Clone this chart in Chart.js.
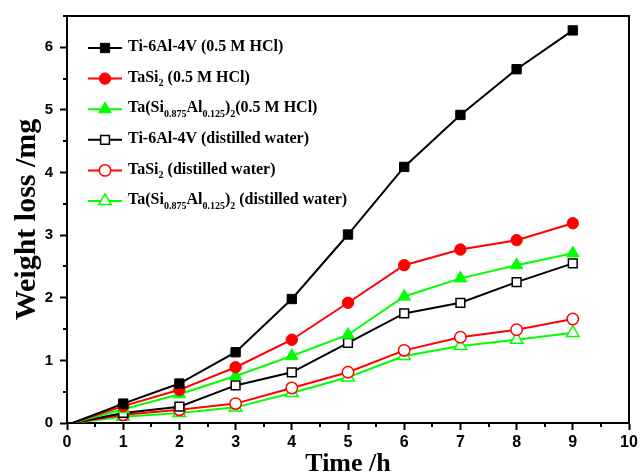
<!DOCTYPE html>
<html>
<head>
<meta charset="utf-8">
<script src="https://cdn.jsdelivr.net/npm/chart.js@4.4.1/dist/chart.umd.min.js"></script>
<style>
  html, body { margin: 0; padding: 0; background: #ffffff; }
  #wrap { width: 642px; height: 475px; }
</style>
</head>
<body>
<div id="wrap"><canvas id="c" width="642" height="475"></canvas></div>
<script>
// ---- data ----
const times = [0.1, 1, 2, 3, 4, 5, 6, 7, 8, 9];
const tiHCl       = [0, 0.31, 0.63, 1.13, 1.98, 3.01, 4.09, 4.92, 5.65, 6.27];
const taSi2HCl    = [0, 0.27, 0.53, 0.89, 1.33, 1.92, 2.52, 2.77, 2.92, 3.19];
const taSiAlHCl   = [0, 0.22, 0.46, 0.75, 1.07, 1.41, 2.02, 2.31, 2.52, 2.71];
const tiWater     = [0, 0.16, 0.26, 0.60, 0.81, 1.28, 1.75, 1.92, 2.25, 2.55];
const taSi2Water  = [0, 0.13, 0.21, 0.31, 0.56, 0.81, 1.16, 1.37, 1.49, 1.66];
const taSiAlWater = [0, 0.10, 0.16, 0.25, 0.48, 0.73, 1.07, 1.23, 1.33, 1.44];

const xTicks = [0, 1, 2, 3, 4, 5, 6, 7, 8, 9, 10];
const yTicks = [0, 1, 2, 3, 4, 5, 6];
const xTitle = "Time /h";
const yTitle = "Weight loss /mg";

// legend labels: segments [text, isSubscript]
const legendLabels = [
  [["Ti-6Al-4V (0.5 M HCl)", false]],
  [["TaSi", false], ["2", true], [" (0.5 M HCl)", false]],
  [["Ta(Si", false], ["0.875", true], ["Al", false], ["0.125", true], [")", false], ["2", true], ["(0.5 M HCl)", false]],
  [["Ti-6Al-4V (distilled water)", false]],
  [["TaSi", false], ["2", true], [" (distilled water)", false]],
  [["Ta(Si", false], ["0.875", true], ["Al", false], ["0.125", true], [")", false], ["2", true], [" (distilled water)", false]]
];

const BLACK = '#000000', RED = '#ff0000', GREEN = '#00ff00';

function pts(arr) { return times.map((t, i) => ({ x: t, y: arr[i] })); }

function ds(label, arr, color, style, radius, filled) {
  return {
    label: label,
    data: pts(arr),
    borderColor: color,
    backgroundColor: filled ? color : '#ffffff',
    borderWidth: 2,
    pointStyle: style,
    pointRadius: (c) => c.dataIndex === 0 ? 0 : radius,
    pointBorderColor: color,
    pointBackgroundColor: filled ? color : '#ffffff',
    pointBorderWidth: filled ? 1 : 1.5,
    tension: 0,
    fill: false
  };
}

const datasets = [
  ds('Ti-6Al-4V (0.5 M HCl)', tiHCl, BLACK, 'rect', 6.6, true),
  ds('TaSi2 (0.5 M HCl)', taSi2HCl, RED, 'circle', 5.7, true),
  ds('Ta(Si0.875Al0.125)2(0.5 M HCl)', taSiAlHCl, GREEN, 'triangle', 7.2, true),
  ds('Ti-6Al-4V (distilled water)', tiWater, BLACK, 'rect', 6.2, false),
  ds('TaSi2 (distilled water)', taSi2Water, RED, 'circle', 5.7, false),
  ds('Ta(Si0.875Al0.125)2 (distilled water)', taSiAlWater, GREEN, 'triangle', 7.2, false)
];

// minor ticks + frame
const framePlugin = {
  id: 'frame',
  afterDraw(chart) {
    const ctx = chart.ctx;
    const a = chart.chartArea;
    const xs = chart.scales.x, ys = chart.scales.y;
    ctx.save();
    ctx.strokeStyle = '#000';
    ctx.lineWidth = 2;
    ctx.beginPath();
    ctx.moveTo(a.left - 1, a.top);
    ctx.lineTo(a.right, a.top);
    ctx.lineTo(a.right, a.bottom + 1);
    ctx.stroke();
    ctx.beginPath();
    for (let i = 0; i < xTicks.length - 1; i++) {
      const px = Math.round(xs.getPixelForValue((xTicks[i] + xTicks[i + 1]) / 2));
      ctx.moveTo(px, a.bottom);
      ctx.lineTo(px, a.bottom + 4);
    }
    const yv = yTicks.concat([7]);
    for (let i = 0; i < yv.length - 1; i++) {
      const v = (yv[i] + yv[i + 1]) / 2;
      if (v > ys.max) break;
      const py = Math.round(ys.getPixelForValue(v));
      ctx.moveTo(a.left, py);
      ctx.lineTo(a.left - 4, py);
    }
    ctx.stroke();
    ctx.restore();
  }
};

// custom legend with subscripts
const legendPlugin = {
  id: 'subLegend',
  afterDraw(chart) {
    const ctx = chart.ctx;
    const x0 = 88, x1 = 122, xm = 105, xt = 128;
    const y0 = 48, dy = 30.6;
    ctx.save();
    chart.data.datasets.forEach((d, i) => {
      const y = y0 + i * dy;
      ctx.strokeStyle = d.borderColor;
      ctx.lineWidth = 2;
      ctx.beginPath();
      ctx.moveTo(x0, y);
      ctx.lineTo(x1, y);
      ctx.stroke();
      const r = typeof d.pointRadius === 'function' ? d.pointRadius({ dataIndex: 1 }) : d.pointRadius;
      ctx.fillStyle = d.pointBackgroundColor;
      ctx.strokeStyle = d.pointBorderColor;
      ctx.lineWidth = d.pointBorderWidth;
      Chart.helpers.drawPoint(ctx, { pointStyle: d.pointStyle, radius: r, borderWidth: d.pointBorderWidth, rotation: 0 }, xm, y);
      let x = xt;
      ctx.fillStyle = '#000';
      ctx.textBaseline = 'middle';
      ctx.textAlign = 'left';
      legendLabels[i].forEach(([txt, sub]) => {
        ctx.font = sub ? 'bold 10px "Liberation Serif", "Times New Roman", serif'
                       : 'bold 16px "Liberation Serif", "Times New Roman", serif';
        ctx.fillText(txt, x, sub ? y + 5 : y - 1);
        x += ctx.measureText(txt).width;
      });
    });
    ctx.restore();
  }
};

new Chart(document.getElementById('c'), {
  type: 'line',
  data: { datasets: datasets },
  options: {
    responsive: false,
    devicePixelRatio: 1,
    animation: false,
    events: [],
    layout: { padding: { top: 12, right: 13, left: 0, bottom: 0 } },
    plugins: { legend: { display: false }, tooltip: { enabled: false } },
    scales: {
      x: {
        type: 'linear',
        min: 0, max: 10,
        afterBuildTicks: (s) => { s.ticks = xTicks.map(v => ({ value: v })); },
        afterFit: (s) => { s.height = 52; },
        ticks: {
          color: '#000',
          padding: 3,
          maxRotation: 0,
          font: { family: '"Liberation Sans", Arial, sans-serif', weight: 'bold', size: 16 }
        },
        grid: { display: true, drawOnChartArea: false, drawTicks: true, tickLength: 7, tickWidth: 2, tickColor: '#000' },
        border: { display: true, color: '#000', width: 2 },
        title: {
          display: true, text: xTitle, color: '#000',
          font: { family: '"Liberation Serif", "Times New Roman", serif', weight: 'bold', size: 26, lineHeight: 1.0 },
          padding: { top: 0, bottom: -2 }
        }
      },
      y: {
        type: 'linear',
        min: 0, max: 6.5,
        afterBuildTicks: (s) => { s.ticks = yTicks.map(v => ({ value: v })); },
        afterFit: (s) => { s.width = 67; },
        ticks: {
          color: '#000',
          padding: 7,
          font: { family: '"Liberation Sans", Arial, sans-serif', weight: 'bold', size: 15 }
        },
        grid: { display: true, drawOnChartArea: false, drawTicks: true, tickLength: 7, tickWidth: 2, tickColor: '#000' },
        border: { display: true, color: '#000', width: 2 },
        title: {
          display: true, text: yTitle, color: '#000',
          font: { family: '"Liberation Serif", "Times New Roman", serif', weight: 'bold', size: 30, lineHeight: 1.0 },
          padding: { top: 12, bottom: 0 }
        }
      }
    }
  },
  plugins: [framePlugin, legendPlugin]
});
</script>
</body>
</html>
